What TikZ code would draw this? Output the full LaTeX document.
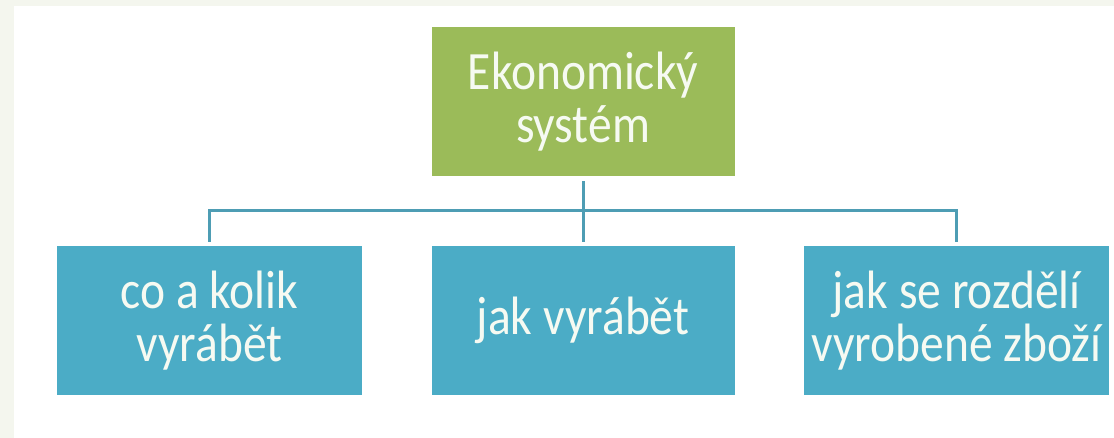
\documentclass[tikz,border=0pt]{standalone}
\usepackage{fontspec}
\setmainfont{Carlito}[FakeStretch=0.88]
\definecolor{pale}{HTML}{F4F6EE}
\definecolor{boxgreen}{HTML}{9BBB59}
\definecolor{boxteal}{HTML}{4BACC6}
\definecolor{linecol}{HTML}{4E9DB4}
\definecolor{txt}{HTML}{F6FAF2}
\tikzset{
  box/.style={rectangle, inner sep=0pt, minimum width=303pt, minimum height=149pt,
    text width=303pt, align=center, text=txt,
    font=\fontsize{54pt}{53pt}\selectfont,
    execute at begin node={\spaceskip=0.2em\relax\xspaceskip=0.2em\relax}},
  topbox/.style={box, fill=boxgreen},
  childbox/.style={box, fill=boxteal},
  conn/.style={draw=linecol, line width=3pt}
}
\begin{document}
\begin{tikzpicture}[x=1pt,y=-1pt]
\useasboundingbox (0,0) rectangle (1114,438);
\fill[pale] (0,0) rectangle (1114,438);
\fill[white] (14,6) rectangle (1114,438);
\node[topbox] (top) at (583,101.5) {Ekonomický\\systém};
\node[childbox, minimum width=305pt, text width=305pt] (left) at (209.5,320.5) {co a kolik\\vyrábět};
\node[childbox] (mid) at (583,320.5) {jak vyrábět};
\node[childbox, minimum width=305pt, text width=305pt] (right) at (956.5,320.5) {jak se rozdělí\\vyrobené zboží};
\coordinate (bus) at (583,211);
\draw[conn, shorten <=5pt, shorten >=4pt] (top.south) -- (mid.north);
\draw[conn, shorten <=4pt, shorten >=4pt] (left.north) |- (bus) -| (right.north);
\end{tikzpicture}
\end{document}
